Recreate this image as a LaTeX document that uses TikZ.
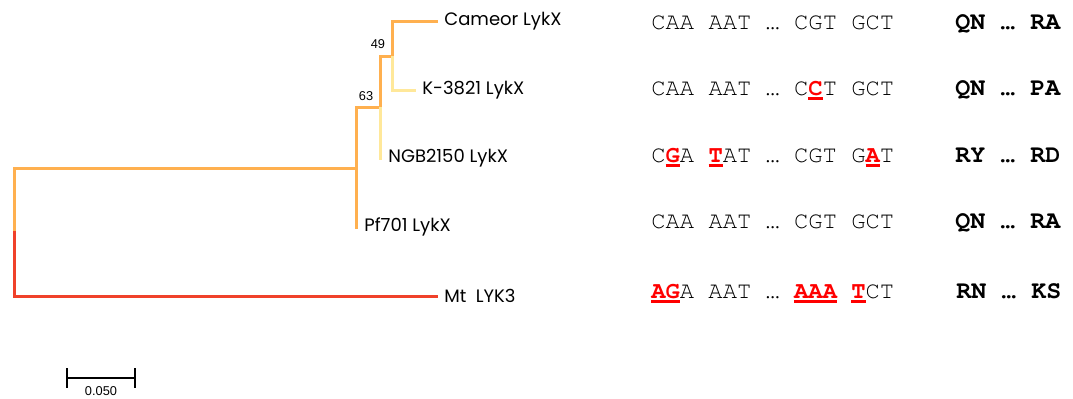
\documentclass[tikz,border=0pt]{standalone}
\usepackage{xcolor}
\usepackage{fontspec}
\usepackage{tikz}
\usetikzlibrary{positioning}
\newfontfamily\gothic{Poppins}
\newfontfamily\arialf{Liberation Sans}
\newfontfamily\courf{texgyrecursor}[Extension=.otf, UprightFont=*-regular, BoldFont=*-bold]
\definecolor{orangebr}{RGB}{255,176,79}
\definecolor{redbr}{RGB}{240,65,42}
\definecolor{yellowbr}{RGB}{255,232,154}
\definecolor{mutred}{RGB}{255,0,0}
% mutated base: red, bold, thick underline
\newcommand{\mutbase}[1]{{\color{mutred}\setbox0\hbox{\bfseries#1}\rlap{\vrule height -1.2pt depth 2.4pt width \wd0}\box0}}

\begin{document}
\begin{tikzpicture}[x=0.5pt, y=-0.5pt,
    branch/.style={line width=1.5pt},
    leaf/.style={font=\gothic\fontsize{9}{10}\selectfont, inner sep=3pt, anchor=west},
    boot/.style={font=\arialf\fontsize{6.4}{7}\selectfont, inner sep=0pt},
    seq/.style={font=\courf\fontsize{11.9}{13}\selectfont, text=black, inner sep=0pt, anchor=base west},
    prot/.style={font=\courf\bfseries\fontsize{12.5}{14}\selectfont, inner sep=0pt, anchor=base west}]
    \useasboundingbox (0,0) rectangle (1073,398);

    % Internal nodes
    \coordinate (r0) at (14,168);
    \coordinate (r0m) at (14,231);
    \coordinate (r0b) at (14,296);
    \coordinate (n1) at (356,168);
    \coordinate (n1t) at (356,107);
    \coordinate (n2) at (380,107);
    \coordinate (n2t) at (380,56);
    \coordinate (n3) at (392,56);
    \coordinate (n3t) at (392,21);
    \coordinate (n3b) at (392,90);

    % Leaf tips
    \coordinate (ngbtip) at (380,160);
    \coordinate (pftip) at (356,229);

    % Leaves
    \node[leaf] (cameor) at (438,21) {Cameor LykX};
    \node[leaf] (k3821) at (416,90) {K-3821 LykX};
    \node[leaf, right=1pt of ngbtip, yshift=1pt] (ngb) {NGB2150 LykX};
    \node[leaf, right=1pt of pftip, yshift=1pt] (pf701) {Pf701 LykX};
    \node[leaf] (mt) at (438,296) {Mt\hspace{0.25em} LYK3};

    % Branches
    \draw[branch, orangebr] (r0m) -- (r0) -- (n1);
    \draw[branch, redbr] (r0m) -- (r0b) -- (mt.west);
    \draw[branch, orangebr] (pftip) -- (n1t) -- (n2) -- (n2t) -- (n3) -- (n3t) -- (cameor.west);
    \draw[branch, yellowbr] (n2) -- (ngbtip);
    \draw[branch, yellowbr] (n3) -- (n3b) -- (k3821.west);

    % Bootstrap values
    \node[boot] (b49) at (378,44) {49};
    \node[boot] (b63) at (366,96) {63};

    % Scale bar
    \coordinate (sb1) at (67,378);
    \coordinate (sb2) at (135,378);
    \draw[line width=0.6pt] ([yshift=5]sb1) -- ([yshift=-5]sb1);
    \draw[line width=0.6pt] ([yshift=5]sb2) -- ([yshift=-5]sb2);
    \draw[line width=0.6pt] (sb1) -- (sb2) node[midway, below=4pt, boot] (sbl) {0.050};

    % Nucleotide sequences
    \node[seq] (s1) at (651,29) {CAA AAT … CGT GCT};
    \node[seq] (s2) at (651,95) {CAA AAT … C\mutbase{C}T GCT};
    \node[seq] (s3) at (651,162) {C\mutbase{G}A \mutbase{T}AT … CGT G\mutbase{A}T};
    \node[seq] (s4) at (651,228) {CAA AAT … CGT GCT};
    \node[seq] (s5) at (651,298) {\mutbase{AG}A AAT … \mutbase{AAA} \mutbase{T}CT};

    % Protein residues
    \node[prot] (p1) at (955,29) {QN … RA};
    \node[prot] (p2) at (955,95) {QN … PA};
    \node[prot] (p3) at (955,162) {RY … RD};
    \node[prot] (p4) at (955,228) {QN … RA};
    \node[prot] (p5) at (956,298) {RN … KS};

\end{tikzpicture}
\end{document}
